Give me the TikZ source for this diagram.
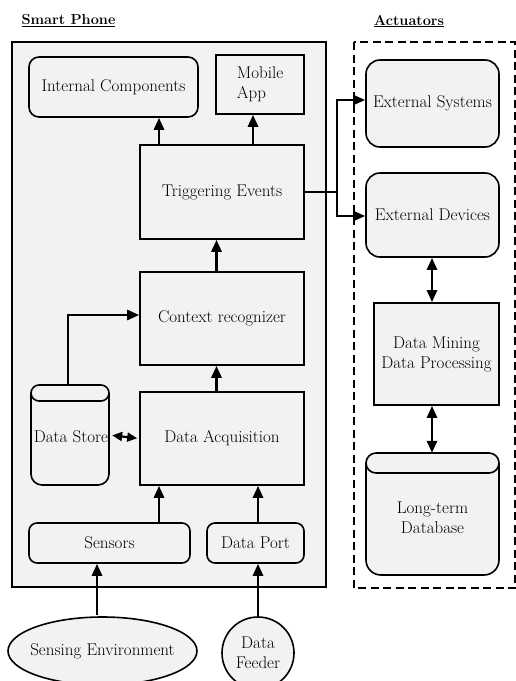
\documentclass[tikz,border=0pt]{standalone}
\usetikzlibrary{arrows.meta,shapes.geometric}
\definecolor{gr}{HTML}{F2F2F2}
\begin{document}
\begin{tikzpicture}[x=1pt,y=-1pt,
  every node/.style={font=\fontsize{17}{20}\selectfont},
  bx/.style={draw, line width=1.6pt, fill=gr, minimum width=#1, inner sep=0pt},
  arr/.style={line width=2.8pt, -{Triangle[length=12pt,width=10pt]}},
  darr/.style={line width=2.8pt, {Triangle[length=12pt,width=10pt]}-{Triangle[length=12pt,width=10pt]}},
  sarr/.style={line width=2.2pt, -{Triangle[length=12pt,width=10pt]}},
  ttl/.style={font=\fontsize{14.5}{17}\selectfont\bfseries}]
\useasboundingbox (0,0) rectangle (516,681);
% containers
\draw[line width=1.8pt, fill=gr] (12,42) rectangle (326,587);
\draw[line width=1.8pt, dash pattern=on 8pt off 4.5pt] (354,42) rectangle (515,588);
\node[ttl, anchor=west] (tphone) at (18,21) {\underline{Smart Phone}};
\node[ttl] (tact) at (409,21) {\underline{Actuators}};
% smart phone nodes
\node[bx=169pt, minimum height=60pt, rounded corners=10pt] (ic) at (113.5,87) {Internal Components};
\node[bx=88pt, minimum height=59pt, align=left] (app) at (260,84.5) {Mobile\\App};
\node[bx=164pt, minimum height=94pt] (trig) at (222,192) {Triggering Events};
\node[bx=164pt, minimum height=93pt] (ctx) at (222,318.5) {Context recognizer};
\node[bx=164pt, minimum height=93pt] (daq) at (222,438.5) {Data Acquisition};
\node[bx=161pt, minimum height=40pt, rounded corners=8pt] (sens) at (109.5,543) {Sensors};
\node[bx=97pt, minimum height=40pt, rounded corners=8pt] (port) at (255.5,543) {Data Port};
% data store cylinder
\draw[line width=1.6pt, fill=gr, rounded corners=11pt] (31,393) -- (31,485) -- (109,485) -- (109,393);
\draw[line width=1.6pt, fill=gr, rounded corners=8pt] (31,385) rectangle (109,401);
\node[minimum width=78pt, minimum height=100pt, inner sep=0pt] (store) at (70,435) {};
\node (storet) at (71,437) {Data Store};
% external nodes
\node[draw, ellipse, line width=1.6pt, fill=gr, minimum width=189pt, minimum height=68pt, inner sep=0pt] (senv) at (102.5,651) {};
\node (senvt) at (senv.center) {Sensing Environment};
\node[draw, circle, line width=1.6pt, fill=gr, minimum size=72pt, inner sep=0pt, align=center] (feed) at (258,653) {Data\\Feeder};
% actuators
\node[bx=133pt, minimum height=87pt, rounded corners=14pt] (extsys) at (432.5,103.5) {External Systems};
\node[bx=133pt, minimum height=84pt, rounded corners=14pt] (extdev) at (432.5,215) {External Devices};
\node[bx=125pt, minimum height=102pt, align=center] (mine) at (436.5,354) {Data Mining\\Data Processing};
\draw[line width=1.6pt, fill=gr, rounded corners=15pt] (366,463) -- (366,575) -- (499,575) -- (499,463);
\draw[line width=1.6pt, fill=gr, rounded corners=10pt] (366,453) rectangle (499,473);
\node[minimum width=133pt, minimum height=122pt, inner sep=0pt] (db) at (432.5,514) {};
\node[align=center] (dbt) at (432.5,518) {Long-term\\Database};
% helper x positions
\path (159,0) coordinate (x1) (253,0) coordinate (x2) (216.5,0) coordinate (x3)
      (258,0) coordinate (x4) (97,0) coordinate (x5) (432,0) coordinate (x6)
      (337,0) coordinate (xj) (68,0) coordinate (x7);
% connectors
\draw[arr] (trig.north -| x1) -- (ic.south -| x1);
\draw[arr] (trig.north -| x2) -- (app.south -| x2);
\draw[arr] (ctx.north -| x3) -- (trig.south -| x3);
\draw[arr] (daq.north -| x3) -- (ctx.south -| x3);
\draw[arr] (sens.north -| x1) -- (daq.south -| x1);
\draw[arr] (port.north -| x4) -- (daq.south -| x4);
\draw[arr] ([yshift=1pt]senv.north -| x5) -- (sens.south -| x5);
\draw[arr] (feed.north -| x4) -- (port.south -| x4);
\draw[line width=2.4pt, -{Triangle[length=12pt,width=10pt]}] (store.north -| x7) |- ([yshift=3.5pt]ctx.west);
\draw[line width=2.2pt, {Triangle[length=10pt,width=9pt]}-{Triangle[length=10pt,width=9pt]}, shorten <=3pt, shorten >=2pt] (store.east) -- (daq.west);
\draw[sarr] (trig.east) -- (trig.east -| xj) |- ([yshift=3.5pt]extsys.west);
\draw[sarr] (trig.east -| xj) |- ([yshift=-1pt]extdev.west);
\draw[darr] (extdev.south -| x6) -- (mine.north -| x6);
\draw[darr] (mine.south -| x6) -- (db.north -| x6);
\end{tikzpicture}
\end{document}
